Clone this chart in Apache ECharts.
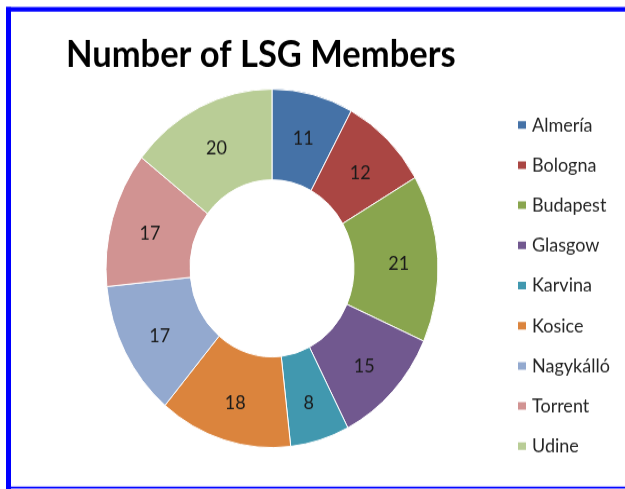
<!DOCTYPE html>
<html>
<head>
<meta charset="utf-8">
<script src="https://cdn.jsdelivr.net/npm/echarts@6/dist/echarts.min.js"></script>
<style>
  html, body { margin: 0; padding: 0; background: #fff; width: 625px; height: 489px; }
  #wrap { width: 625px; height: 489px; position: relative; }
  /* the reference is stretched a little vertically, so draw at 453 high and stretch to 489 */
  #chart { position: absolute; left: 0; top: 0; width: 625px; height: 453px; transform: scaleY(1.0795); transform-origin: 0 0; }
</style>
</head>
<body>
<div id="wrap"><div id="chart"></div></div>
<script>
const cities = ['Almería', 'Bologna', 'Budapest', 'Glasgow', 'Karvina', 'Kosice', 'Nagykálló', 'Torrent', 'Udine'];
const members = [11, 12, 21, 15, 8, 18, 17, 17, 20];
const colors = ['#4572A7', '#AA4643', '#89A54E', '#71588F', '#4198AF', '#DB843D', '#93A9CF', '#D19392', '#B9CD96'];

const myChart = echarts.init(document.getElementById('chart'), null, { renderer: 'canvas' });

const option = {
    animation: false,
    color: colors,
    title: {
        text: 'Number of LSG Members',
        left: 66,
        top: 33,
        padding: 0,
        textStyle: { fontFamily: 'Lato', fontWeight: 'bold', fontSize: 34.5, color: '#000' }
    },
    legend: {
        orient: 'vertical',
        left: 516,
        top: 106.7,
        padding: 0,
        itemWidth: 10,
        itemHeight: 9,
        itemGap: 19.2,
        icon: 'rect',
        data: cities,
        textStyle: { fontFamily: 'Lato', fontSize: 18, color: '#262626' }
    },
    graphic: [
        // blue frame: top, left, bottom
        { type: 'rect', shape: { x: 6, y: 6.5, width: 619, height: 4.3 }, style: { fill: '#0000FF' } },
        { type: 'rect', shape: { x: 6, y: 6.5, width: 5, height: 447 }, style: { fill: '#0000FF' } },
        { type: 'rect', shape: { x: 6, y: 450.8, width: 619, height: 1.6 }, style: { fill: '#0000FF' } }
    ],
    series: [
        {
            type: 'pie',
            center: [272, 248.6],
            radius: [82, 166],
            startAngle: 90,
            clockwise: true,
            avoidLabelOverlap: false,
            label: {
                show: true,
                position: 'inside',
                formatter: '{c}',
                fontFamily: 'Lato',
                fontSize: 18,
                color: '#1a1a1a',
                offset: [0, 3]
            },
            labelLine: { show: false },
            itemStyle: { borderColor: '#fff', borderWidth: 1 },
            emphasis: { disabled: true },
            data: cities.map((name, i) => ({ name: name, value: members[i] }))
        }
    ]
};

myChart.setOption(option);
</script>
</body>
</html>
